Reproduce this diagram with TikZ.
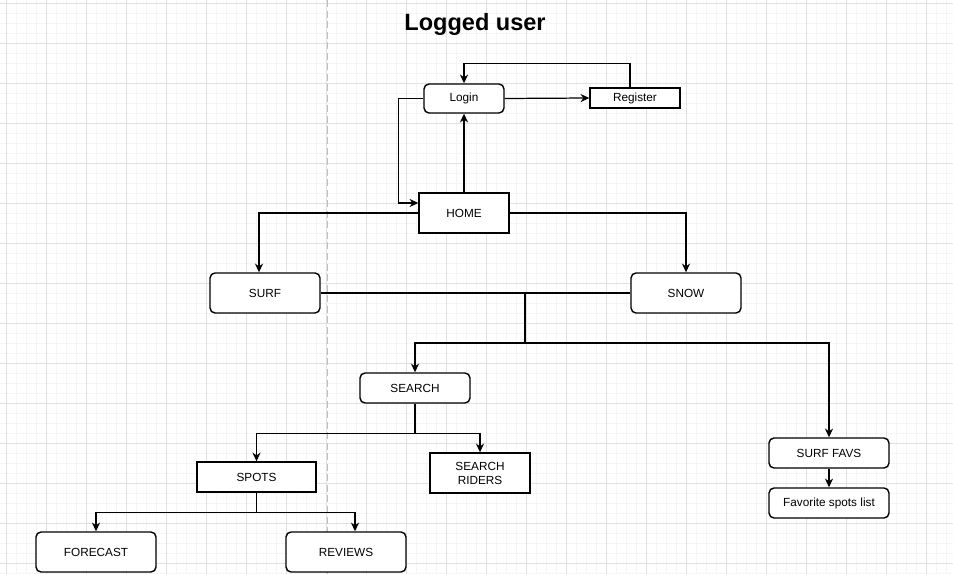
\documentclass[tikz,border=0pt]{standalone}
\usepackage{fontspec}
\setmainfont{Liberation Sans}
\usetikzlibrary{arrows.meta,positioning,calc}

\begin{document}
\begin{tikzpicture}[
    x=0.02cm, y=-0.02cm,
    >={Stealth[length=5pt,width=4.6pt]}, line width=0.7pt,
    box/.style={draw, line width=0.8pt, font=\fontsize{6.7}{8}\selectfont, align=center, inner sep=1pt, fill=white},
    rbox/.style={box, rounded corners=0.1cm},
    gridminor/.style={draw=black!4, line width=0.4pt},
    gridmajor/.style={draw=black!12, line width=0.5pt},
    title/.style={font=\bfseries\fontsize{13.4}{16}\selectfont}
  ]
  \useasboundingbox (0,0) rectangle (953,574);
  % background grid of the canvas
  \foreach \gx in {6,16,...,946} \draw[gridminor] (\gx,0) -- (\gx,574);
  \foreach \gy in {3,13,...,573} \draw[gridminor] (0,\gy) -- (953,\gy);
  \foreach \gx in {6,46,...,926} \draw[gridmajor] (\gx,0) -- (\gx,574);
  \foreach \gy in {3,43,...,563} \draw[gridmajor] (0,\gy) -- (953,\gy);
  \draw[black!25, line width=0.5pt, dash pattern=on 4pt off 2pt] (327,0) -- (327,574);

  \node[title] (title) at (475,24) {Logged user};

  \node[rbox, minimum width=1.6cm, minimum height=0.58cm] (login) at (464,98.5) {Login};
  \node[box, minimum width=1.8cm, minimum height=0.4cm] (reg) at (635,98) {Register};
  \node[box, minimum width=1.8cm, minimum height=0.8cm] (home) at (464,213) {HOME};
  \node[rbox, minimum width=2.2cm, minimum height=0.8cm] (surf) at (265,293) {SURF};
  \node[rbox, minimum width=2.2cm, minimum height=0.8cm] (snow) at (686,293) {SNOW};
  \node[rbox, minimum width=2.2cm, minimum height=0.6cm] (search) at (415,388) {SEARCH};
  \node[box, minimum width=2.38cm, minimum height=0.6cm] (spots) at (256.5,477) {SPOTS};
  \node[box, minimum width=2.0cm, minimum height=0.8cm] (riders) at (480,473) {SEARCH\\RIDERS};
  \node[rbox, minimum width=2.4cm, minimum height=0.6cm] (favs) at (829,453) {SURF FAVS};
  \node[rbox, minimum width=2.4cm, minimum height=0.6cm] (favlist) at (829,503) {Favorite spots list};
  \node[rbox, minimum width=2.4cm, minimum height=0.8cm] (fcast) at (96,552) {FORECAST};
  \node[rbox, minimum width=2.4cm, minimum height=0.8cm] (reviews) at (346,552) {REVIEWS};

  % login / register
  \draw[->] (login.east) -- (reg.west);
  \draw[->] ([xshift=-0.1cm]reg.north) -- ++(0,-24) -| (login.north);
  \draw[->] (home.north) -- (login.south);
  \draw[->] (login.west) -- ++(-25,0) |- ([yshift=0.2cm]home.west);
  % home to sports
  \draw[->] (home.west) -| ([xshift=-0.12cm]surf.north);
  \draw[->] (home.east) -| (snow.north);
  % both sports share the next level
  \coordinate (mid) at (525,293);
  \coordinate (split) at (525,343);
  \draw (surf.east) -- (snow.west);
  \draw (mid) -- (split);
  \draw[->] (split) -| (search.north);
  \draw[->] (split) -| (favs.north);
  \draw[->] (favs.south) -- (favlist.north);
  % search
  \draw (search.south) -- ++(0,30) coordinate (srchsplit);
  \draw[->] (srchsplit) -| (spots.north);
  \draw[->] (srchsplit) -| (riders.north);
  % spots
  \draw (spots.south) -- ++(0,20) coordinate (spotsplit);
  \draw[->] (spotsplit) -| (fcast.north);
  \draw[->] (spotsplit) -| ([xshift=0.18cm]reviews.north);
\end{tikzpicture}
\end{document}
